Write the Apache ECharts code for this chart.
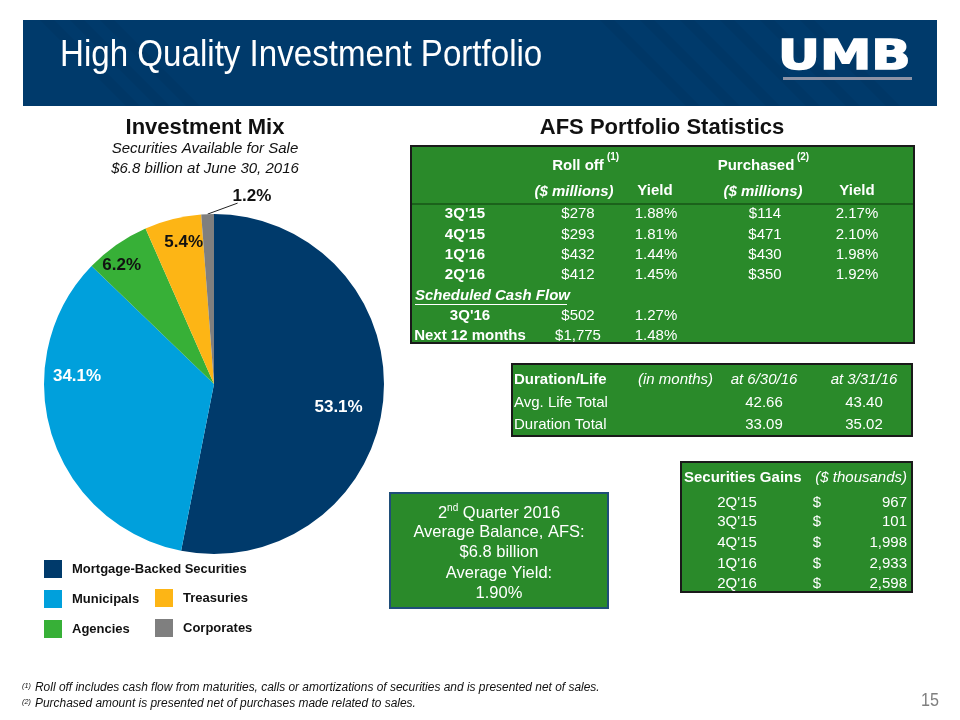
<!DOCTYPE html>
<html><head><meta charset="utf-8">
<script src="https://cdn.jsdelivr.net/npm/echarts@6/dist/echarts.min.js"></script>
<style>html,body{margin:0;padding:0;background:#fff}#c{width:960px;height:720px}</style>
</head><body><div id="c"></div>
<script>
// ---------- data ----------
const mixCategories = ['Mortgage-Backed Securities', 'Municipals', 'Agencies', 'Treasuries', 'Corporates'];
const mixValues = [53.1, 34.1, 6.2, 5.4, 1.2];
const statQuarters = ["3Q'15", "4Q'15", "1Q'16", "2Q'16"];
const rollOff = ['$278', '$293', '$432', '$412'];
const rollOffYield = ['1.88%', '1.81%', '1.44%', '1.45%'];
const purchased = ['$114', '$471', '$430', '$350'];
const purchasedYield = ['2.17%', '2.10%', '1.98%', '1.92%'];
const scheduledLabels = ["3Q'16", 'Next 12 months'];
const scheduledRollOff = ['$502', '$1,775'];
const scheduledYield = ['1.27%', '1.48%'];
const durationRows = ['Avg. Life Total', 'Duration Total'];
const durationJun = ['42.66', '33.09'];
const durationMar = ['43.40', '35.02'];
const gainQuarters = ["2Q'15", "3Q'15", "4Q'15", "1Q'16", "2Q'16"];
const gainValues = ['967', '101', '1,998', '2,933', '2,598'];
const avgBalanceLines = ['Average Balance, AFS:', '$6.8 billion', 'Average Yield:', '1.90%'];
const footnotes = ['Roll off includes cash flow from maturities, calls or amortizations of securities and is presented net of sales.',
                   'Purchased amount is presented net of purchases made related to sales.'];

// ---------- styles ----------
const SANS = "'Liberation Sans', Arial, Helvetica, sans-serif";
const NAVY = '#003A6B';
const GREEN = '#2A8A2A';
const mixColors = ['#003A6B', '#00A0DC', '#37B037', '#FDB515', '#7F7F7F'];
const mixLabelColors = ['#ffffff', '#ffffff', '#111111', '#111111', '#111111'];
const labelShift = [[37, 15], [-53, -34], [-42, -47], [-9, -56]];

function txt(x, y, text, o) {
  o = o || {};
  const el = {
    type: 'text', x: x, y: y, silent: true, z: 10,
    style: {
      text: text, fill: o.fill || '#fff', font: (o.italic ? 'italic ' : '') + (o.bold ? 'bold ' : '') + (o.size || 15) + 'px ' + SANS,
      align: o.align || 'center', verticalAlign: 'middle'
    }
  };
  if (o.scaleX) el.scaleX = o.scaleX;
  return el;
}
function measure(text, font) {
  const c = document.createElement('canvas').getContext('2d');
  c.font = font; return c.measureText(text).width;
}

const g = [];
// header
g.push({ type: 'rect', shape: { x: 23, y: 20, width: 914, height: 86 }, style: { fill: NAVY }, silent: true });
[40, 70, 100, 600, 640, 680, 720, 760, 800].forEach(sx => {
  g.push({ type: 'polygon', silent: true, z: 1,
    shape: { points: [[sx, 20], [sx + 14, 20], [sx + 14 + 86, 106], [sx + 86, 106]] },
    style: { fill: 'rgba(0,0,0,0.045)' } });
});
g.push(txt(60, 56, 'High Quality Investment Portfolio', { size: 36, align: 'left', scaleX: 0.92 }));
g.push({ type: 'text', x: 778, y: 58, scaleX: 1.26, silent: true, z: 10,
  style: { text: 'UMB', fill: '#fff', stroke: '#fff', lineWidth: 1.5, font: 'bold 41px ' + "'DejaVu Sans', sans-serif", align: 'left', verticalAlign: 'middle' } });
g.push({ type: 'rect', shape: { x: 783, y: 77, width: 129, height: 3 }, style: { fill: '#8C93A6' }, silent: true, z: 10 });

// left titles
g.push(txt(205, 128, 'Investment Mix', { bold: true, size: 22, fill: '#111' }));
g.push(txt(205, 149, 'Securities Available for Sale', { italic: true, size: 15, fill: '#111' }));
g.push(txt(205, 169, '$6.8 billion at June 30, 2016', { italic: true, size: 15, fill: '#111' }));
g.push(txt(662, 128, 'AFS Portfolio Statistics', { bold: true, size: 22, fill: '#111' }));

// main stats table
g.push({ type: 'rect', shape: { x: 411, y: 146, width: 503, height: 197 }, style: { fill: GREEN, stroke: '#1a1a1a', lineWidth: 2 }, silent: true });
g.push({ type: 'line', shape: { x1: 412, y1: 204, x2: 913, y2: 204 }, style: { stroke: '#175417', lineWidth: 1.5 }, silent: true });
g.push(txt(578, 166, 'Roll off', { bold: true }));
g.push(txt(613, 157, '(1)', { bold: true, size: 10 }));
g.push(txt(756, 166, 'Purchased', { bold: true }));
g.push(txt(803, 157, '(2)', { bold: true, size: 10 }));
g.push(txt(574, 192, '($ millions)', { bold: true, italic: true }));
g.push(txt(655, 191, 'Yield', { bold: true }));
g.push(txt(763, 192, '($ millions)', { bold: true, italic: true }));
g.push(txt(857, 191, 'Yield', { bold: true }));
const rowY = [214, 235, 255, 275];
statQuarters.forEach((q, i) => {
  g.push(txt(465, rowY[i], q, { bold: true }));
  g.push(txt(578, rowY[i], rollOff[i]));
  g.push(txt(656, rowY[i], rollOffYield[i]));
  g.push(txt(765, rowY[i], purchased[i]));
  g.push(txt(857, rowY[i], purchasedYield[i]));
});
g.push(txt(415, 296, 'Scheduled Cash Flow', { bold: true, italic: true, align: 'left' }));
g.push({ type: 'line', shape: { x1: 415, y1: 304.5, x2: 567, y2: 304.5 }, style: { stroke: '#fff', lineWidth: 1 }, silent: true });
const schedY = [316, 336];
scheduledLabels.forEach((q, i) => {
  g.push(txt(470, schedY[i], q, { bold: true }));
  g.push(txt(578, schedY[i], scheduledRollOff[i]));
  g.push(txt(656, schedY[i], scheduledYield[i]));
});

// duration table
g.push({ type: 'rect', shape: { x: 512, y: 364, width: 400, height: 72 }, style: { fill: GREEN, stroke: '#1a1a1a', lineWidth: 2 }, silent: true });
g.push(txt(514, 380, 'Duration/Life', { bold: true, align: 'left' }));
g.push(txt(638, 380, '(in months)', { italic: true, align: 'left' }));
g.push(txt(764, 380, 'at 6/30/16', { italic: true }));
g.push(txt(864, 380, 'at 3/31/16', { italic: true }));
const durY = [403, 425];
durationRows.forEach((r, i) => {
  g.push(txt(514, durY[i], r, { align: 'left' }));
  g.push(txt(764, durY[i], durationJun[i]));
  g.push(txt(864, durY[i], durationMar[i]));
});

// gains table
g.push({ type: 'rect', shape: { x: 681, y: 462, width: 231, height: 130 }, style: { fill: GREEN, stroke: '#1a1a1a', lineWidth: 2 }, silent: true });
g.push(txt(684, 478, 'Securities Gains', { bold: true, align: 'left' }));
g.push(txt(907, 478, '($ thousands)', { italic: true, align: 'right' }));
const gainY = [503, 522, 543, 564, 584];
gainQuarters.forEach((q, i) => {
  g.push(txt(737, gainY[i], q));
  g.push(txt(817, gainY[i], '$'));
  g.push(txt(907, gainY[i], gainValues[i], { align: 'right' }));
});

// average balance box
g.push({ type: 'rect', shape: { x: 390, y: 493, width: 218, height: 115 }, style: { fill: GREEN, stroke: '#1F4E79', lineWidth: 2 }, silent: true });
(function () {
  const f = '16.5px ' + SANS, fs = '10px ' + SANS;
  const w1 = measure('2', f), w2 = measure('nd', fs), w3 = measure(' Quarter 2016', f);
  const x0 = 499 - (w1 + w2 + w3) / 2;
  g.push(txt(x0, 513, '2', { size: 16.5, align: 'left' }));
  g.push(txt(x0 + w1, 508, 'nd', { size: 10, align: 'left' }));
  g.push(txt(x0 + w1 + w2, 513, ' Quarter 2016', { size: 16.5, align: 'left' }));
})();
const avgY = [532, 552, 573, 593];
avgBalanceLines.forEach((s, i) => g.push(txt(499, avgY[i], s, { size: 16.5 })));

// footnotes + page number
g.push(txt(22, 686, '(1)', { size: 8, italic: true, fill: '#111', align: 'left', scaleX: 0.9 }));
g.push(txt(35, 688, footnotes[0], { size: 12.5, italic: true, fill: '#111', align: 'left', scaleX: 0.955 }));
g.push(txt(22, 702, '(2)', { size: 8, italic: true, fill: '#111', align: 'left', scaleX: 0.9 }));
g.push(txt(35, 704, footnotes[1], { size: 12.5, italic: true, fill: '#111', align: 'left', scaleX: 0.955 }));
g.push(txt(921, 701, '15', { size: 19, fill: '#7f7f7f', align: 'left', scaleX: 0.85 }));

const chart = echarts.init(document.getElementById('c'), null, { renderer: 'canvas' });
chart.setOption({
  backgroundColor: '#fff',
  animation: false,
  color: mixColors,
  legend: [
    { orient: 'vertical', left: 44, top: 560, padding: 0, itemWidth: 18, itemHeight: 18, itemGap: 12, icon: 'rect',
      data: ['Mortgage-Backed Securities', 'Municipals', 'Agencies'], selectedMode: false,
      textStyle: { fontFamily: SANS, fontWeight: 'bold', fontSize: 13, color: '#111', padding: [0, 0, 0, 5] } },
    { orient: 'vertical', left: 155, top: 589, padding: 0, itemWidth: 18, itemHeight: 18, itemGap: 12, icon: 'rect',
      data: ['Treasuries', 'Corporates'], selectedMode: false,
      textStyle: { fontFamily: SANS, fontWeight: 'bold', fontSize: 13, color: '#111', padding: [0, 0, 0, 5] } }
  ],
  series: [{
    type: 'pie', center: [214, 384], radius: 170, startAngle: 90, clockwise: true,
    avoidLabelOverlap: false, silent: true,
    label: { show: true, position: 'inside', fontFamily: SANS, fontWeight: 'bold', fontSize: 17,
      formatter: p => p.value.toFixed(1) + '%' },
    labelLine: { show: false },
    labelLayout: function (p) {
      if (p.dataIndex < 4) return { dx: labelShift[p.dataIndex][0], dy: labelShift[p.dataIndex][1] };
      const a = p.labelLinePoints && p.labelLinePoints[0];
      if (!a) return {};
      return { x: a[0] + 25, y: a[1] - 18, align: 'left', verticalAlign: 'middle',
        labelLinePoints: [a, [a[0] + 30, a[1] - 11], [a[0] + 30, a[1] - 11]] };
    },
    data: mixCategories.map((n, i) => {
      const d = { name: n, value: mixValues[i], itemStyle: { color: mixColors[i] }, label: { color: mixLabelColors[i] } };
      if (i === 4) {
        d.label.position = 'outside';
        d.labelLine = { show: true, length: 5, length2: 10, lineStyle: { color: '#222', width: 1 } };
      }
      return d;
    })
  }],
  graphic: { elements: g }
});
</script></body></html>
